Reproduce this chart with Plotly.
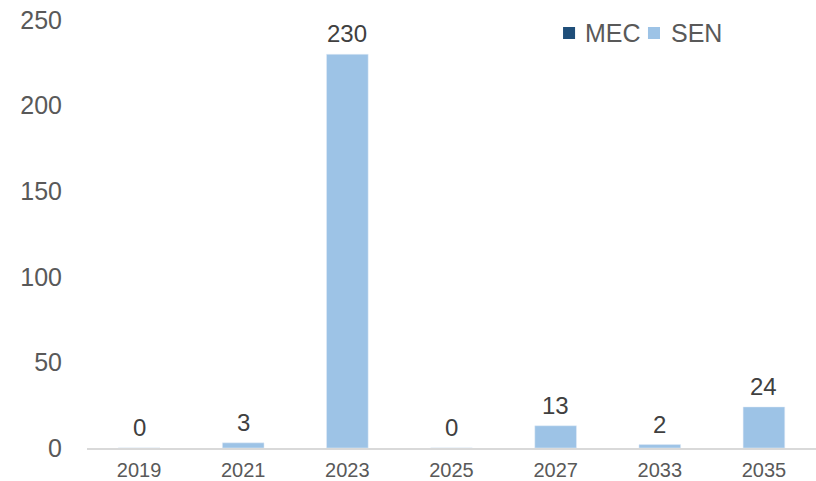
import plotly.graph_objects as go

years = ["2019", "2021", "2023", "2025", "2027", "2033", "2035"]
series_names = ["MEC", "SEN"]
mec = [0, 0, 0, 0, 0, 0, 0]
sen = [0, 3, 230, 0, 13, 2, 24]
colors = ["#1F4E79", "#9DC3E6"]

fig = go.Figure()
fig.add_trace(go.Bar(x=years, y=mec, name=series_names[0], marker_color=colors[0],
                     width=0.4, hoverinfo="skip"))
fig.add_trace(go.Bar(x=years, y=sen, name=series_names[1], marker_color=colors[1],
                     width=0.4))

# Data labels above SEN bars (x given as category index on the category axis)
for i, yv in enumerate(sen):
    fig.add_annotation(x=i, y=yv, xref="x", yref="y", text=str(yv), showarrow=False,
                       yanchor="bottom", yshift=5,
                       font=dict(size=24, color="#404040"))

# Legend drawn as shapes + text to match the compact Excel-style legend
sq_x = [0.653, 0.7695]
txt_x = [0.6804, 0.7984]
for i, name in enumerate(series_names):
    fig.add_shape(type="rect", xref="paper", yref="paper",
                  x0=sq_x[i], x1=sq_x[i] + 0.0165, y0=0.9556, y1=0.9836,
                  fillcolor=colors[i], line=dict(width=0))
    fig.add_annotation(xref="paper", yref="paper", x=txt_x[i], y=0.9696,
                       xanchor="left", yanchor="middle", text=name, showarrow=False,
                       font=dict(size=25, color="#595959"))

fig.update_layout(
    barmode="overlay",
    width=816, height=481,
    margin=dict(l=87, r=0, t=20, b=33),
    plot_bgcolor="white", paper_bgcolor="white",
    font=dict(family="Liberation Sans, Arial, sans-serif", color="#595959"),
    showlegend=False,
    xaxis=dict(type="category", showline=True, linecolor="#D9D9D9", linewidth=1.5,
               tickfont=dict(size=20, color="#595959"), ticks="", showgrid=False,
               ticklabelstandoff=3, automargin=False),
    yaxis=dict(range=[0, 250], tickvals=[0, 50, 100, 150, 200, 250],
               showgrid=False, zeroline=False, showline=False, automargin=False,
               tickfont=dict(size=25, color="#595959"), ticklabelstandoff=24),
)

fig.write_html("out.html")
